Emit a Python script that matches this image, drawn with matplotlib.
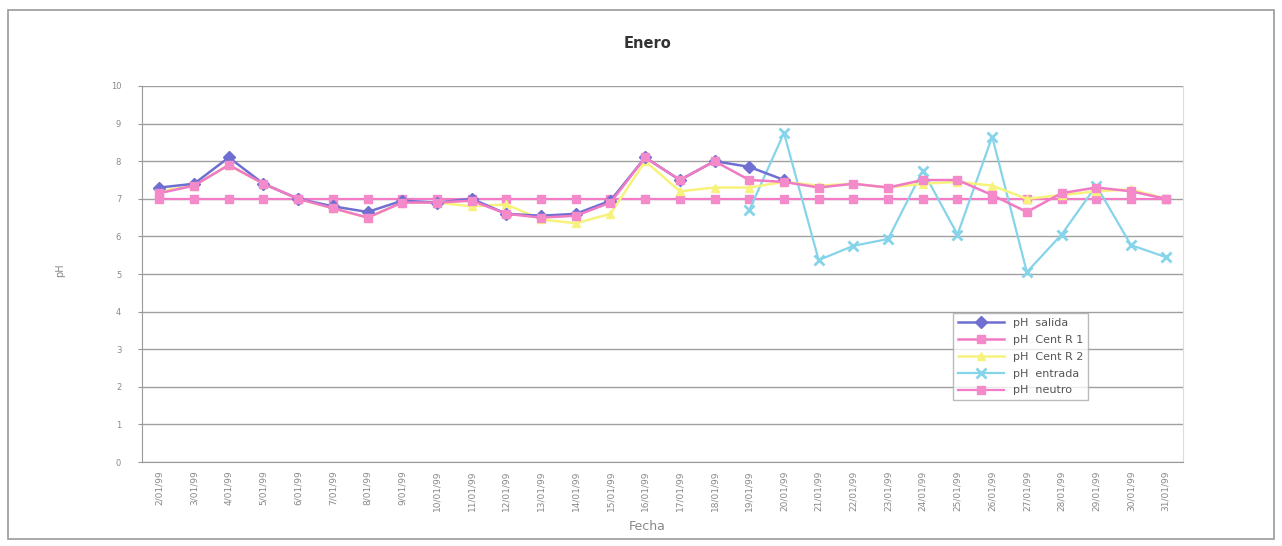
# pH diario de enero: salida, centrífugas, entrada y línea neutra
import matplotlib.pyplot as plt
from matplotlib.patches import Rectangle
import numpy as np

nan = np.nan

fechas = ["%d/01/99" % d for d in range(2, 32)]

ph_salida = [7.3, 7.4, 8.1, 7.4, 7.0, 6.8, 6.65, 6.95, 6.9, 7.0,
             6.6, 6.55, 6.6, 6.95, 8.1, 7.5, 8.0, 7.85, 7.5, nan,
             nan, nan, nan, nan, nan, nan, nan, nan, nan, nan]
ph_r1 = [7.15, 7.35, 7.9, 7.4, 7.0, 6.75, 6.5, 6.9, 6.9, 6.95,
         6.6, 6.5, 6.55, 6.9, 8.1, 7.5, 8.0, 7.5, 7.45, 7.3,
         7.4, 7.3, 7.5, 7.5, 7.1, 6.65, 7.15, 7.3, 7.2, 7.0]
ph_r2 = [7.2, 7.35, 7.9, 7.4, 7.0, 6.75, 6.5, 6.9, 6.9, 6.8,
         6.85, 6.45, 6.35, 6.6, 8.0, 7.2, 7.3, 7.3, 7.45, 7.35,
         7.4, 7.3, 7.4, 7.45, 7.35, 7.0, 7.1, 7.2, 7.25, 7.0]
ph_entrada = [nan, nan, nan, nan, nan, nan, nan, nan, nan, nan,
              nan, nan, nan, nan, nan, nan, nan, 6.7, 8.75, 5.37,
              5.75, 5.93, 7.75, 6.05, 8.65, 5.05, 6.05, 7.35, 5.77, 5.45]
ph_neutro = [7.0] * 30

x = np.arange(len(fechas))

fig = plt.figure(figsize=(12.82, 5.46), dpi=100)
ax = fig.add_axes([0.1108, 0.1538, 0.8120, 0.6887])

# marco exterior del gráfico
fig.patches.append(Rectangle((0.006, 0.012), 0.988, 0.97, transform=fig.transFigure,
                             fill=False, edgecolor="#9a9a9a", linewidth=1.2))

ax.plot(x, ph_neutro, color="#f27cc6", lw=1.6, marker="s", ms=6,
        mfc="#f58acb", mec="#f58acb", label="pH  neutro", zorder=2)
ax.plot(x, ph_entrada, color="#86d4ea", lw=1.6, marker="x", ms=7, mew=2,
        label="pH  entrada", zorder=3)
ax.plot(x, ph_r2, color="#f7f27c", lw=1.8, marker="^", ms=6,
        mfc="#f7f27c", mec="#f7f27c", label="pH  Cent R 2", zorder=4)
ax.plot(x, ph_salida, color="#6f6fd2", lw=1.8, marker="D", ms=6,
        label="pH  salida", zorder=5)
ax.plot(x, ph_r1, color="#f07ac4", lw=1.8, marker="s", ms=6,
        mfc="#f58acb", mec="#f58acb", label="pH  Cent R 1", zorder=6)

ax.set_xlim(-0.5, len(fechas) - 0.5)
ax.set_ylim(0, 10)
ax.set_yticks(range(0, 11))
ax.set_yticklabels([str(v) for v in range(0, 11)], fontsize=6, color="#8a8a8a")
ax.set_xticks(x)
ax.set_xticklabels(fechas, rotation=90, fontsize=6.5, color="#888888")
ax.tick_params(axis="y", length=3, color="#999999", pad=12)
ax.tick_params(axis="x", length=0, pad=6)

ax.grid(axis="y", color="#a0a0a0", lw=1.0)
ax.set_axisbelow(True)
ax.spines["top"].set_visible(False)
ax.spines["right"].set_color("#dddddd")
ax.spines["left"].set_color("#999999")
ax.spines["bottom"].set_color("#999999")

handles, labels = ax.get_legend_handles_labels()
order = [3, 4, 2, 1, 0]
leg = ax.legend([handles[i] for i in order], [labels[i] for i in order],
                loc="upper left", bbox_to_anchor=(0.774, 0.41), fontsize=8,
                frameon=True, fancybox=False, edgecolor="#aaaaaa",
                handlelength=4.2, borderpad=0.4, labelspacing=0.62)
for t in leg.get_texts():
    t.set_color("#555555")

fig.text(0.505, 0.921, "Enero", ha="center", va="center", fontsize=10.5,
         fontweight="bold", color="#333333")
fig.text(0.047, 0.505, "pH", ha="center", va="center", rotation=90,
         fontsize=7, color="#888888")
fig.text(0.505, 0.035, "Fecha", ha="center", va="center", fontsize=9,
         color="#888888")

fig.savefig("out.png", dpi=100)
